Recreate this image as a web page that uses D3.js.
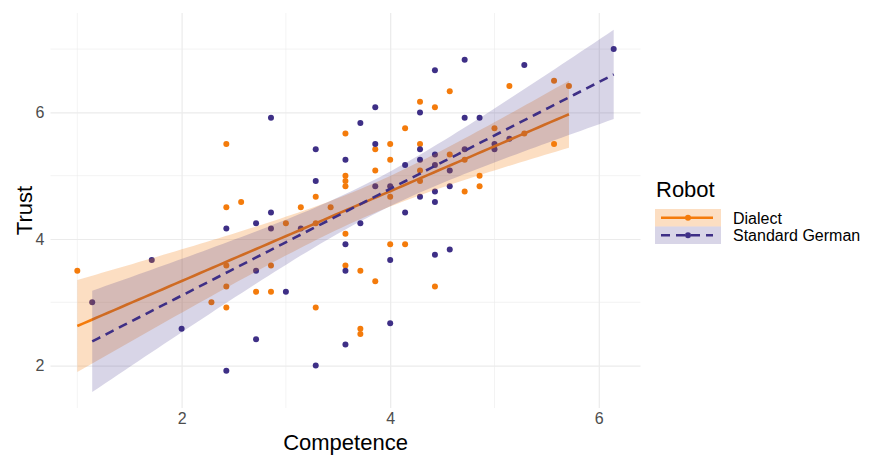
<!DOCTYPE html>
<html>
<head>
<meta charset="utf-8">
<script src="https://cdn.jsdelivr.net/npm/d3@7"></script>
<style>
  html, body { margin: 0; padding: 0; background: #fff; }
  svg { display: block; font-family: "Liberation Sans", Arial, sans-serif; }
</style>
</head>
<body>
<svg id="chart" width="877" height="455"></svg>
<script>
// Competence vs. trust ratings per participant, by robot voice
const dialectCompetence = [1.0, 2.286, 2.429, 2.429, 2.429, 2.429, 2.429, 2.571, 2.714, 2.857,
  2.857, 3.0, 3.143, 3.286, 3.286, 3.286, 3.429, 3.571, 3.571, 3.571,
  3.571, 3.571, 3.571, 3.714, 3.714, 3.714, 3.857, 3.857, 3.857, 4.0,
  4.0, 4.0, 4.0, 4.143, 4.143, 4.286, 4.286, 4.286, 4.286, 4.429,
  4.429, 4.571, 4.571, 4.714, 4.714, 4.857, 4.857, 5.0, 5.143, 5.286,
  5.571, 5.571, 5.714];
const dialectTrust = [3.5, 3.0, 5.5, 4.5, 3.583, 3.25, 2.917, 4.583, 3.167, 3.583,
  3.167, 4.25, 4.5, 4.667, 4.25, 2.917, 4.5, 5.667, 5.0, 4.917,
  4.833, 4.083, 3.583, 3.5, 2.583, 2.5, 5.417, 5.083, 3.333, 5.5,
  5.25, 4.667, 3.917, 5.75, 3.917, 6.167, 5.5, 5.083, 4.917, 6.083,
  3.25, 6.333, 5.333, 5.25, 4.75, 5.0, 4.833, 5.75, 6.417, 5.667,
  6.5, 5.5, 6.417];

const standardCompetence = [1.143, 1.714, 2.0, 2.429, 2.429, 2.714, 2.714, 2.714, 2.857, 2.857,
  2.857, 3.0, 3.143, 3.286, 3.286, 3.286, 3.571, 3.571, 3.571, 3.571,
  3.714, 3.714, 3.857, 3.857, 3.857, 4.0, 4.0, 4.0, 4.143, 4.143,
  4.286, 4.286, 4.286, 4.286, 4.429, 4.429, 4.429, 4.429, 4.429, 4.429,
  4.571, 4.571, 4.571, 4.714, 4.714, 4.714, 4.857, 5.0, 5.0, 5.143,
  5.286, 6.143];
const standardTrust = [3.0, 3.667, 2.583, 4.167, 1.917, 4.25, 3.5, 2.417, 5.917, 4.417,
  4.167, 3.167, 4.167, 5.417, 4.917, 2.0, 5.25, 3.917, 3.5, 2.333,
  5.833, 4.25, 6.083, 5.5, 4.833, 4.833, 3.667, 2.667, 5.167, 4.417,
  6.0, 5.417, 5.25, 4.667, 6.667, 5.333, 5.167, 4.75, 4.583, 3.75,
  5.083, 4.833, 3.833, 6.833, 5.917, 5.417, 5.917, 5.5, 5.417, 5.583,
  6.75, 7.0];

const robotLabels = ["Dialect", "Standard German"];
const robotColors = ["#F47B0B", "#3E2F86"];
const xTicks = [2, 4, 6];
const yTicks = [2, 4, 6];
const xMinor = [1, 3, 5];
const yMinor = [3, 5, 7];

const groups = [
  { name: robotLabels[0], color: robotColors[0], fillOpacity: 0.25, dash: null,
    pts: dialectCompetence.map((c, i) => ({ x: c, y: dialectTrust[i] })) },
  { name: robotLabels[1], color: robotColors[1], fillOpacity: 0.2, dash: "9,6",
    pts: standardCompetence.map((c, i) => ({ x: c, y: standardTrust[i] })) }
];

// Ordinary least squares fit with a 95% confidence band for the mean
function tQuantile975(df) {
  const z = 1.959964;
  return z + (z ** 3 + z) / (4 * df) + (5 * z ** 5 + 16 * z ** 3 + 3 * z) / (96 * df * df);
}
function lmBand(pts) {
  const n = pts.length;
  const mx = d3.mean(pts, p => p.x), my = d3.mean(pts, p => p.y);
  const sxx = d3.sum(pts, p => (p.x - mx) ** 2);
  const sxy = d3.sum(pts, p => (p.x - mx) * (p.y - my));
  const b = sxy / sxx, a = my - b * mx;
  const sse = d3.sum(pts, p => (p.y - a - b * p.x) ** 2);
  const s = Math.sqrt(sse / (n - 2));
  const t = tQuantile975(n - 2);
  const [x0, x1] = d3.extent(pts, p => p.x);
  return d3.range(81).map(i => {
    const x = x0 + (x1 - x0) * i / 80;
    const fit = a + b * x;
    const se = s * Math.sqrt(1 / n + (x - mx) ** 2 / sxx);
    return { x, fit, lo: fit - t * se, hi: fit + t * se };
  });
}

const svg = d3.select("#chart");
const panel = { left: 50.5, right: 640.5, top: 13, bottom: 408 };
const x = d3.scaleLinear().domain([0.743, 6.4]).range([panel.left, panel.right]);
const y = d3.scaleLinear().domain([1.33, 7.57]).range([panel.bottom, panel.top]);

// minor grid
const grid = svg.append("g");
grid.selectAll(".xminor").data(xMinor).join("line")
  .attr("x1", d => x(d)).attr("x2", d => x(d))
  .attr("y1", panel.top).attr("y2", panel.bottom)
  .attr("stroke", "#EBEBEB").attr("stroke-width", 0.6);
grid.selectAll(".yminor").data(yMinor).join("line")
  .attr("y1", d => y(d)).attr("y2", d => y(d))
  .attr("x1", panel.left).attr("x2", panel.right)
  .attr("stroke", "#EBEBEB").attr("stroke-width", 0.6);

// major grid via axes
const fmt = d3.format("d");
const xAxis = d3.axisBottom(x).tickValues(xTicks).tickFormat(fmt)
  .tickSize(-(panel.bottom - panel.top)).tickPadding(5);
const yAxis = d3.axisLeft(y).tickValues(yTicks).tickFormat(fmt)
  .tickSize(-(panel.right - panel.left)).tickPadding(6);
function styleAxis(g) {
  g.select(".domain").remove();
  g.selectAll(".tick line").attr("stroke", "#EBEBEB").attr("stroke-width", 1.2);
  g.selectAll(".tick text").attr("fill", "#4D4D4D").style("font-size", "16px")
    .style("font-family", "'Liberation Sans', Arial, sans-serif");
}
svg.append("g").attr("transform", `translate(0,${panel.bottom})`).call(xAxis).call(styleAxis);
svg.append("g").attr("transform", `translate(${panel.left},0)`).call(yAxis).call(styleAxis);

// points
groups.forEach(g => {
  svg.append("g").selectAll("circle").data(g.pts).join("circle")
    .attr("cx", d => x(d.x)).attr("cy", d => y(d.y)).attr("r", 3)
    .attr("fill", g.color);
});

// fitted lines with confidence ribbons
groups.forEach(g => {
  const band = lmBand(g.pts);
  svg.append("path").datum(band)
    .attr("d", d3.area().x(d => x(d.x)).y0(d => y(d.lo)).y1(d => y(d.hi)))
    .attr("fill", g.color).attr("fill-opacity", g.fillOpacity);
  svg.append("path").datum(band)
    .attr("d", d3.line().x(d => x(d.x)).y(d => y(d.fit)))
    .attr("fill", "none").attr("stroke", g.color).attr("stroke-width", 2.6)
    .attr("stroke-dasharray", g.dash);
});

// axis titles
svg.append("text").attr("x", (panel.left + panel.right) / 2).attr("y", 450)
  .attr("text-anchor", "middle").style("font-size", "22px").attr("fill", "#000")
  .text("Competence");
svg.append("text").attr("transform", `translate(32,${(panel.top + panel.bottom) / 2}) rotate(-90)`)
  .attr("text-anchor", "middle").style("font-size", "22px").attr("fill", "#000")
  .text("Trust");

// legend
const legend = svg.append("g").attr("transform", "translate(655,0)");
legend.append("text").attr("x", 1).attr("y", 197).style("font-size", "22px").attr("fill", "#000")
  .text("Robot");
groups.forEach((g, i) => {
  const top = 209 + i * 17.5;
  const row = legend.append("g").attr("transform", `translate(0,${top})`);
  row.append("rect").attr("width", 66).attr("height", 17.5)
    .attr("fill", g.color).attr("fill-opacity", g.fillOpacity);
  row.append("line").attr("x1", 6).attr("x2", 58).attr("y1", 8.8).attr("y2", 8.8)
    .attr("stroke", g.color).attr("stroke-width", 2.6).attr("stroke-dasharray", g.dash);
  row.append("circle").attr("cx", 33).attr("cy", 8.8).attr("r", 3).attr("fill", g.color);
  row.append("text").attr("x", 78).attr("y", 14.5).style("font-size", "16px").attr("fill", "#000")
    .text(g.name);
});
</script>
</body>
</html>
